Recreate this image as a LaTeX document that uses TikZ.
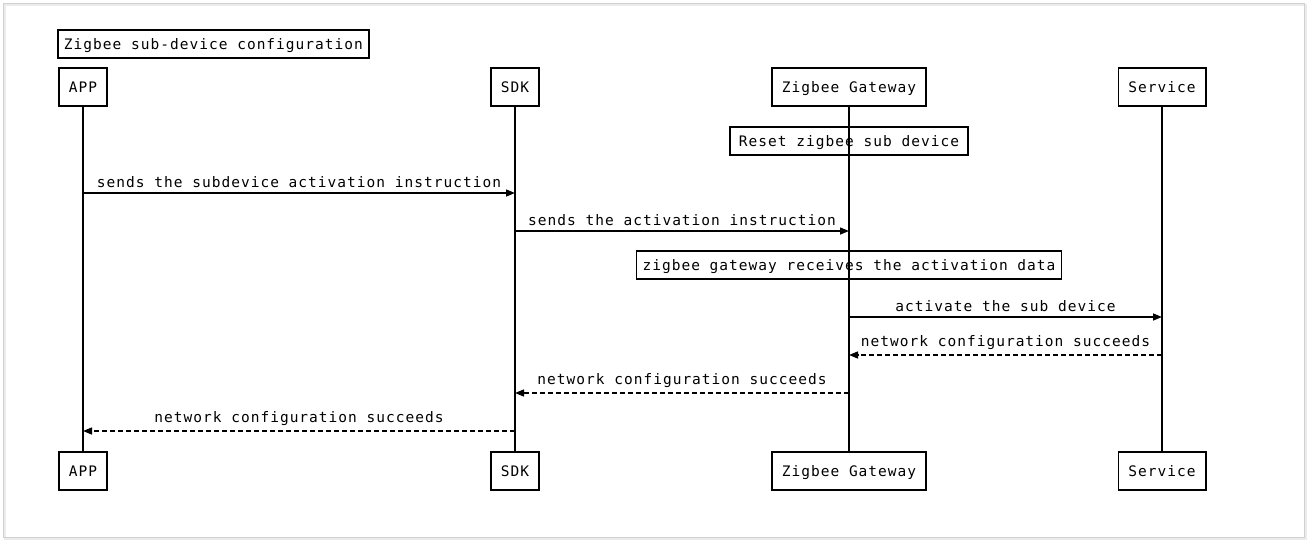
\documentclass[tikz,border=0pt]{standalone}
\usepackage{fontspec}
\newfontfamily\seqfont{DejaVu Sans Mono}[LetterSpace=7]
\usetikzlibrary{arrows.meta}

\begin{document}
\begin{tikzpicture}[x=1pt,y=-1pt,>={Triangle[length=9pt,width=7pt]},line width=1.4pt,
  font=\seqfont\fontsize{14.5}{17}\selectfont,
  party/.style={draw,line width=1.8pt,minimum height=38pt,inner xsep=10pt,
    text height=10.5pt,text depth=0pt},
  note/.style={draw,line width=1.8pt,minimum height=28pt,inner xsep=6pt,
    text height=10.5pt,text depth=0pt},
  msg/.style={->},
  reply/.style={->,dash pattern=on 5pt off 3pt}]
  \useasboundingbox (0,0) rectangle (1309,543);

  % 外框
  \draw[black!8,line width=2pt] (5,5) rectangle (1306,539);
  \draw[black!18,line width=0.8pt] (3.5,3.5) rectangle (1304.5,537.5);

  % 标题
  \node[note,anchor=west] (title) at (57,44) {Zigbee sub-device configuration};

  % 参与者
  \node[party] (appT) at (83,87) {APP};
  \node[party] (sdkT) at (515,87) {SDK};
  \node[party] (gwT) at (849,87) {Zigbee Gateway};
  \node[party] (svT) at (1162,87) {Service};
  \node[party] (appB) at (83,471) {APP};
  \node[party] (sdkB) at (515,471) {SDK};
  \node[party] (gwB) at (849,471) {Zigbee Gateway};
  \node[party] (svB) at (1162,471) {Service};

  % 说明框
  \node[note,inner xsep=9pt] (reset) at (849,141) {Reset zigbee sub device};
  \node[note] (recv) at (849,265) {zigbee gateway receives the activation data};

  % 生命线
  \draw (appT) -- (appB);
  \draw (sdkT) -- (sdkB);
  \draw (gwT) -- (gwB);
  \draw (svT) -- (svB);

  % 消息点
  \coordinate (a1) at (83,193);
  \coordinate (s1) at (515,193);
  \coordinate (s2) at (515,231);
  \coordinate (g2) at (849,231);
  \coordinate (g3) at (849,317);
  \coordinate (v3) at (1162,317);
  \coordinate (v4) at (1162,355);
  \coordinate (g4) at (849,355);
  \coordinate (g5) at (849,393);
  \coordinate (s5) at (515,393);
  \coordinate (s6) at (515,431);
  \coordinate (a6) at (83,431);

  % 消息
  \draw[msg] (a1) -- (s1) node[midway,above=1pt] {sends the subdevice activation instruction};
  \draw[msg] (s2) -- (g2) node[midway,above=1pt] {sends the activation instruction};
  \draw[msg] (g3) -- (v3) node[midway,above=1pt] {activate the sub device};
  \draw[reply] (v4) -- (g4) node[midway,above=1pt] {network configuration succeeds};
  \draw[reply] (g5) -- (s5) node[midway,above=1pt] {network configuration succeeds};
  \draw[reply] (s6) -- (a6) node[midway,above=1pt] {network configuration succeeds};
\end{tikzpicture}
\end{document}
